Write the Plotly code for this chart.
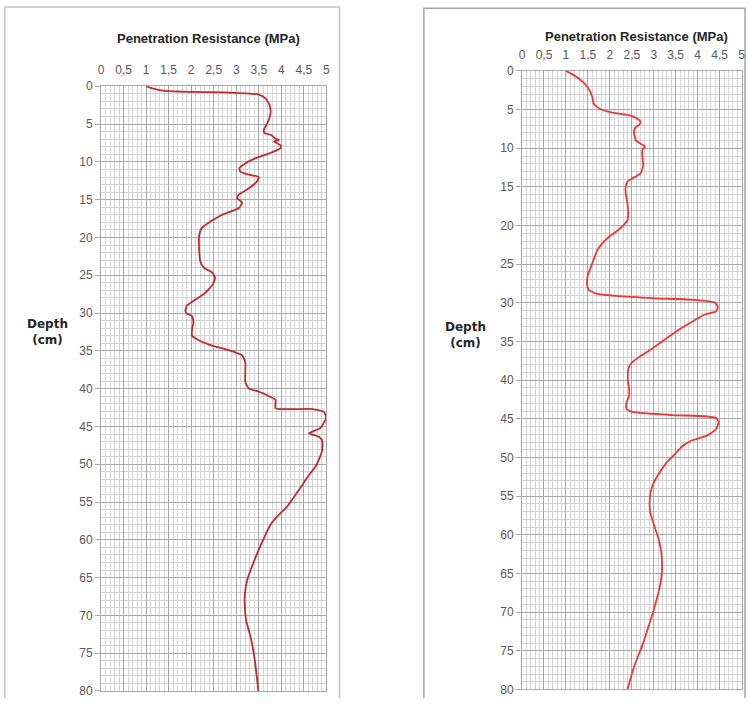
import plotly.graph_objects as go

W, H = 749, 705

# ---------------- data ----------------
depth_left = [0, 0.3, 0.6, 0.75, 0.83, 1.1, 1.6, 2.5, 3.6, 4.9, 5.8, 6.2, 6.4, 6.9, 7.1, 7.3, 7.8, 8.2,
              8.9, 9.5, 10.2, 10.8, 11.3, 11.7, 12.0, 12.6, 13.5, 14.3, 14.8, 15.4, 16.1, 17.0, 17.9,
              18.7, 19.6, 20.7, 22.0, 23.1, 24.0, 24.6, 25.3, 26.2, 27.4, 28.4, 29.0, 29.7, 30.1, 30.4,
              31.2, 32.1, 33.0, 33.6, 34.3, 34.9, 35.6, 36.5, 37.8, 39.1, 40.0, 40.4, 41.1, 41.5, 42.6,
              42.7, 43.1, 43.9, 45.2, 45.9, 46.4, 47.0, 48.3, 50.1, 51.8, 53.4, 55.6, 56.9, 58.0, 59.3,
              61.3, 63.5, 65.4, 67.2, 68.9, 70.7, 72.9, 75.1, 77.3, 80.0]
pr_left = [1.0, 1.16, 1.42, 2.09, 2.83, 3.5, 3.65, 3.74, 3.76, 3.69, 3.61, 3.63, 3.76, 3.87, 3.95, 3.84, 3.98, 3.98,
           3.72, 3.43, 3.2, 3.07, 3.09, 3.28, 3.5, 3.46, 3.28, 3.06, 3.02, 3.13, 3.06, 2.69, 2.43,
           2.24, 2.18, 2.17, 2.18, 2.2, 2.28, 2.46, 2.53, 2.48, 2.3, 2.05, 1.91, 1.87, 1.91, 2.02,
           2.05, 2.02, 2.02, 2.17, 2.46, 2.83, 3.13, 3.2, 3.2, 3.2, 3.28, 3.5, 3.76, 3.87, 3.87,
           4.69, 4.95, 4.99, 4.87, 4.61, 4.84, 4.91, 4.9, 4.78, 4.57, 4.39, 4.13, 3.91, 3.76, 3.65,
           3.5, 3.35, 3.24, 3.19, 3.19, 3.22, 3.32, 3.39, 3.44, 3.49]

depth_right = [0, 0.34, 1.0, 1.85, 2.5, 3.36, 4.2, 4.86, 5.4, 5.7, 6.15, 6.6, 7.0, 7.4, 8.1, 8.95, 9.4, 9.8,
               10.2, 11.1, 12.2, 13.25, 13.9, 14.3, 15.0, 15.8, 17.1, 18.4, 19.3, 19.9, 20.8, 21.6, 22.5,
               23.1, 23.8, 24.7, 25.5, 26.4, 27.2, 27.9, 28.3, 28.8, 29.1, 29.4, 29.6, 29.96, 30.5, 31.1,
               31.5, 32.2, 33.5, 35.0, 36.2, 37.3, 37.9, 38.6, 39.9, 41.2, 42.0, 42.9, 43.7, 44.1, 44.5,
               44.66, 44.9, 45.4, 46.3, 47.1, 47.8, 48.6, 49.5, 50.6, 51.8, 52.9, 53.8, 55.3, 57.1, 58.8,
               60.5, 62.2, 63.9, 65.7, 67.4, 69.5, 71.7, 74.3, 76.9, 80.0]
pr_right = [1.0, 1.12, 1.3, 1.46, 1.54, 1.6, 1.63, 1.76, 2.06, 2.44, 2.62, 2.7, 2.66, 2.57, 2.55, 2.59, 2.7, 2.8,
            2.74, 2.74, 2.76, 2.7, 2.51, 2.4, 2.36, 2.36, 2.4, 2.42, 2.4, 2.32, 2.14, 1.95, 1.8,
            1.72, 1.67, 1.61, 1.56, 1.5, 1.48, 1.49, 1.52, 1.69, 2.14, 3.04, 3.94, 4.39, 4.46, 4.42,
            4.16, 3.94, 3.56, 3.19, 2.89, 2.59, 2.47, 2.42, 2.41, 2.44, 2.44, 2.38, 2.38, 2.51, 3.41,
            4.16, 4.42, 4.48, 4.42, 4.24, 3.86, 3.64, 3.49, 3.3, 3.15, 3.03, 2.96, 2.91, 2.92, 3.01,
            3.11, 3.17, 3.19, 3.17, 3.11, 3.01, 2.89, 2.74, 2.56, 2.4]

x_tickvals = [0, 0.5, 1, 1.5, 2, 2.5, 3, 3.5, 4, 4.5, 5]
x_ticktext = ["0", "0,5", "1", "1,5", "2", "2,5", "3", "3,5", "4", "4,5", "5"]
y_tickvals = [0, 5, 10, 15, 20, 25, 30, 35, 40, 45, 50, 55, 60, 65, 70, 75, 80]
y_ticktext = [str(v) for v in y_tickvals]

x_title = "Penetration Resistance (MPa)"
y_title = "Depth<br>(cm)"

# ---------------- helpers ----------------
# target pixel positions are converted to figure pixels (empirical page-to-photo mapping)
SX, BX, SY, BY = 0.986, 5.1, 0.979, 6.8

def fx(p):
    return min(max((p - BX) / SX, 0.0), W) / W

def fy(p):
    return 1 - min(max((p - BY) / SY, 0.0), H) / H

FONT = "Liberation Sans, Arial, sans-serif"
LFONT = "DejaVu Sans, Liberation Sans, sans-serif"
TICKCOL = "#595959"

fig = go.Figure()
fig.add_trace(go.Scatter(x=pr_left, y=depth_left, mode="lines", xaxis="x", yaxis="y",
                         line=dict(color="#c4282d", width=1.8, shape="spline", smoothing=0.5),
                         showlegend=False, hoverinfo="x+y"))
fig.add_trace(go.Scatter(x=pr_right, y=depth_right, mode="lines", xaxis="x2", yaxis="y2",
                         line=dict(color="#f03535", width=1.8, shape="spline", smoothing=0.5),
                         showlegend=False, hoverinfo="x+y"))

def xaxis_cfg(dom, anchor):
    return dict(domain=dom, anchor=anchor, range=[0, 5], side="top",
                tickvals=x_tickvals, ticktext=x_ticktext,
                tickfont=dict(family=FONT, size=12, color=TICKCOL),
                showgrid=True, gridcolor="#a8a8a8", gridwidth=1,
                minor=dict(dtick=0.1, showgrid=True, gridcolor="#d3d3d3", gridwidth=1),
                showline=True, linecolor="#a8a8a8", linewidth=1, mirror=True,
                ticks="outside", ticklen=6, tickcolor="rgba(0,0,0,0)",
                zeroline=False, fixedrange=True)

def yaxis_cfg(dom, anchor):
    return dict(domain=dom, anchor=anchor, range=[80, 0],
                tickvals=y_tickvals, ticktext=y_ticktext,
                tickfont=dict(family=FONT, size=12, color=TICKCOL),
                showgrid=True, gridcolor="#a8a8a8", gridwidth=1,
                minor=dict(dtick=1, showgrid=True, gridcolor="#d3d3d3", gridwidth=1),
                showline=True, linecolor="#a8a8a8", linewidth=1, mirror=True,
                ticks="outside", ticklen=5, tickcolor="#a8a8a8",
                zeroline=False, fixedrange=True)

# target pixel geometry of the two plot areas
L_x0, L_x1, L_y0, L_y1 = 102.7, 327.0, 86.0, 690.0
R_x0, R_x1, R_y0, R_y1 = 521.7, 740.2, 70.7, 688.5

def frame_path(x0, x1, y0):
    # open frame: left, top, right edges running to the bottom of the picture
    return "M {a},{b} L {a},{c} L {d},{c} L {d},{b}".format(
        a=fx(x0), b=0, c=fy(y0), d=fx(x1))

fig.update_layout(
    width=W, height=H,
    margin=dict(l=0, r=0, t=0, b=0),
    paper_bgcolor="white", plot_bgcolor="white",
    separators=", ",
    xaxis=xaxis_cfg([fx(L_x0), fx(L_x1)], "y"),
    yaxis=yaxis_cfg([fy(L_y1), fy(L_y0)], "x"),
    xaxis2=xaxis_cfg([fx(R_x0), fx(R_x1)], "y2"),
    yaxis2=yaxis_cfg([fy(R_y1), fy(R_y0)], "x2"),
    shapes=[
        dict(type="path", xref="paper", yref="paper", path=frame_path(7, 340, 5),
             line=dict(color="#c4c4c4", width=1.5), layer="below"),
        dict(type="path", xref="paper", yref="paper", path=frame_path(424, 760, 8),
             line=dict(color="#a6a6a6", width=1.5), layer="below"),
    ],
    annotations=[
        dict(text="<b>" + x_title + "</b>", xref="paper", yref="paper",
             x=fx(210), y=fy(38), showarrow=False, xanchor="center", yanchor="middle",
             font=dict(family=FONT, size=13, color="#262626")),
        dict(text="<b>" + x_title + "</b>", xref="paper", yref="paper",
             x=fx(636), y=fy(36), showarrow=False, xanchor="center", yanchor="middle",
             font=dict(family=FONT, size=13, color="#262626")),
        dict(text="<b>" + y_title + "</b>", xref="paper", yref="paper",
             x=fx(49), y=fy(331.5), showarrow=False, xanchor="center", yanchor="middle",
             font=dict(family=LFONT, size=12, color="#262626")),
        dict(text="<b>" + y_title + "</b>", xref="paper", yref="paper",
             x=fx(465), y=fy(334.5), showarrow=False, xanchor="center", yanchor="middle",
             font=dict(family=LFONT, size=12, color="#262626")),
    ],
)

css = ("var s=document.createElement('style');"
       "s.innerHTML='html,body{margin:0;padding:0;overflow:hidden;width:749px;height:705px;}';"
       "document.head.appendChild(s);")

fig.write_html("out.html", config={"displayModeBar": False}, post_script=css)
